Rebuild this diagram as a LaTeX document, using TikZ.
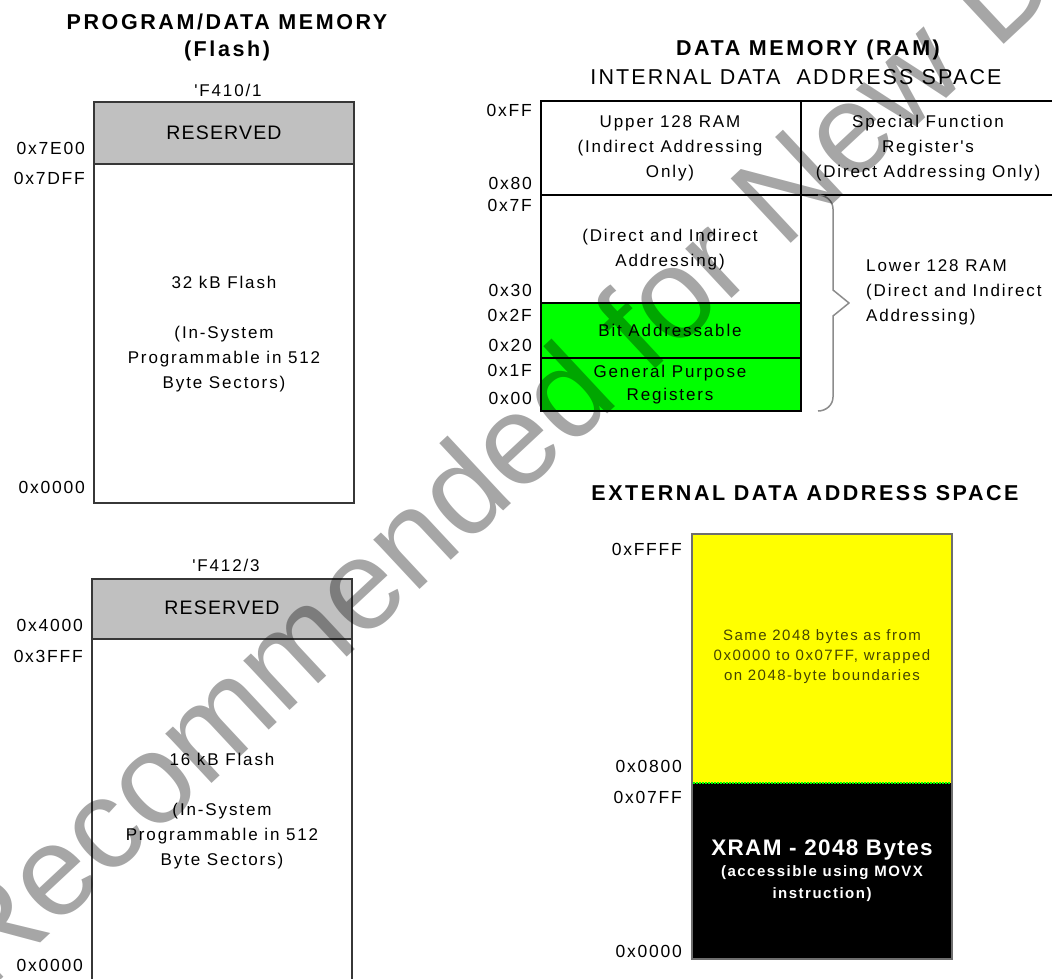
\documentclass[tikz,border=0pt]{standalone}
\usepackage{fontspec}
\setmainfont{Liberation Sans}
\newfontfamily\fsA[LetterSpace=11]{Liberation Sans}
\newfontfamily\fsB[LetterSpace=12]{Liberation Sans}
\newfontfamily\fsC[LetterSpace=6]{Liberation Sans}
\newfontfamily\fsD[LetterSpace=10]{Liberation Sans}
\newfontfamily\fsW{Liberation Sans}
\definecolor{resgray}{RGB}{192,192,192}
\definecolor{boxline}{RGB}{55,55,55}
\definecolor{ramgreen}{RGB}{0,255,0}
\definecolor{xyellow}{RGB}{255,255,0}
\definecolor{bracegray}{RGB}{140,140,140}
\definecolor{olivetext}{RGB}{70,70,0}
\definecolor{xborder}{RGB}{110,110,110}
\begin{document}
\begin{tikzpicture}[x=1pt,y=-1pt,
  addr/.style={anchor=east,inner sep=0pt,font=\fsD\fontsize{17.5}{20}\selectfont},
  ttl/.style={inner sep=0pt,font=\fsB\bfseries\fontsize{21.5}{24}\selectfont},
  sub/.style={inner sep=0pt,font=\fsD\fontsize{21.5}{24}\selectfont},
  part/.style={inner sep=0pt,font=\fsA\fontsize{17}{20}\selectfont},
  body/.style={inner sep=0pt,align=center,font=\fsA\fontsize{17}{25}\selectfont},
  res/.style={inner sep=0pt,font=\fsC\fontsize{19.5}{22}\selectfont},
  ylw/.style={inner sep=0pt,align=center,text=olivetext,font=\fsD\fontsize{15}{20}\selectfont},
  xbig/.style={inner sep=0pt,text=white,font=\fsC\bfseries\fontsize{22.5}{24}\selectfont},
  xsm/.style={inner sep=0pt,align=center,text=white,font=\fsD\bfseries\fontsize{15}{22}\selectfont},
  flashbox/.style={draw=boxline,line width=2pt},
  rambox/.style={draw=black,line width=1.5pt},
]
\useasboundingbox (0,0) rectangle (1052,979);
\fill[white] (0,0) rectangle (1052,979);

% ---------- Program / data memory (Flash) ----------
\node[ttl] (t1) at (227,22) {PROGRAM/DATA MEMORY};
\node[ttl] (t1b) at (227,51) {(Flash)};

\node[part] (p1) at (228,90) {'F410/1};
\fill[resgray] (94,102) rectangle (354,164);
\draw[flashbox] (94,102) rectangle (354,503);
\draw[flashbox] (94,164) -- (354,164);
\node[res] (r1) at (224,133) {RESERVED};
\node[addr] (a1) at (85,148) {0x7E00};
\node[addr] (a2) at (85,178) {0x7DFF};
\node[addr] (a3) at (85,487) {0x0000};
\node[body] (f1) at (224,334.5) {32 kB Flash\\[25pt](In-System\\Programmable in 512\\Byte Sectors)};

\node[part] (p2) at (226,565) {'F412/3};
\fill[resgray] (92,579) rectangle (352,639);
\draw[flashbox] (92,579) rectangle (352,1000);
\draw[flashbox] (92,639) -- (352,639);
\node[res] (r2) at (222,608) {RESERVED};
\node[addr] (a4) at (83,625) {0x4000};
\node[addr] (a5) at (83,656) {0x3FFF};
\node[addr] (a6) at (83,965) {0x0000};
\node[body] (f2) at (222,811.5) {16 kB Flash\\[25pt](In-System\\Programmable in 512\\Byte Sectors)};

% ---------- Internal data RAM ----------
\node[ttl] (t2) at (808,50) {DATA MEMORY (RAM)};
\node[sub] (t3) at (796,77) {INTERNAL DATA\ \ ADDRESS SPACE};

\fill[ramgreen] (541,303) rectangle (801,411);
\draw[rambox] (1060,101) -- (541,101) -- (541,411) -- (801,411) -- (801,101);
\draw[rambox] (541,195) -- (1060,195);
\draw[rambox] (541,303) -- (801,303);
\draw[rambox] (541,358) -- (801,358);

\node[body] (u1) at (670,148) {Upper 128 RAM\\(Indirect Addressing\\Only)};
\node[body] (u2) at (928,148) {Special Function\\Register's\\(Direct Addressing Only)};
\node[body] (l1) at (670,249.5) {(Direct and Indirect\\Addressing)};
\node[body] (l2) at (670,330) {Bit Addressable};
\node[body,font=\fsA\fontsize{17}{23}\selectfont] (l3) at (670,384.5) {General Purpose\\Registers};

\node[addr] (b1) at (532,110) {0xFF};
\node[addr] (b2) at (532,183) {0x80};
\node[addr] (b3) at (532,205) {0x7F};
\node[addr] (b4) at (532,290) {0x30};
\node[addr] (b5) at (532,315) {0x2F};
\node[addr] (b6) at (532,345) {0x20};
\node[addr] (b7) at (532,370) {0x1F};
\node[addr] (b8) at (532,398) {0x00};

\draw[bracegray,line width=1.5pt,line join=round]
  (818,195) to[out=0,in=90] (833,209) -- (833,290) -- (849,303) -- (833,316) -- (833,397) to[out=-90,in=0] (818,411);
\node[body,align=left,anchor=west] (lw) at (866,292.5) {Lower 128 RAM\\(Direct and Indirect\\Addressing)};

% ---------- External data space ----------
\node[ttl] (t4) at (805,493) {EXTERNAL DATA ADDRESS SPACE};
\fill[xyellow] (692,534) rectangle (952,783);
\fill[black] (692,783) rectangle (952,959);
\draw[xborder,line width=1.5pt] (692,534) rectangle (952,959);
\draw[ramgreen,line width=1.5pt,dash pattern=on 1.5pt off 1.5pt] (693,783) -- (951,783);

\node[addr] (c1) at (682,549) {0xFFFF};
\node[addr] (c2) at (682,766) {0x0800};
\node[addr] (c3) at (682,797) {0x07FF};
\node[addr] (c4) at (682,951) {0x0000};

\node[ylw] (y1) at (822,657) {Same 2048 bytes as from\\0x0000 to 0x07FF, wrapped\\on 2048-byte boundaries};
\node[xbig] (x1) at (822,850) {XRAM - 2048 Bytes};
\node[xsm] (x2) at (822,884) {(accessible using MOVX\\instruction)};

% ---------- watermark ----------
\begin{scope}
\clip (0,0) rectangle (1052,979);
\node[anchor=base west,rotate=43,inner sep=0pt,text=black,text opacity=0.35,
      font=\fsW\fontsize{128}{128}\selectfont] (wm) at (-13,993) {Recommended for New Designs};
\end{scope}
\end{tikzpicture}
\end{document}
